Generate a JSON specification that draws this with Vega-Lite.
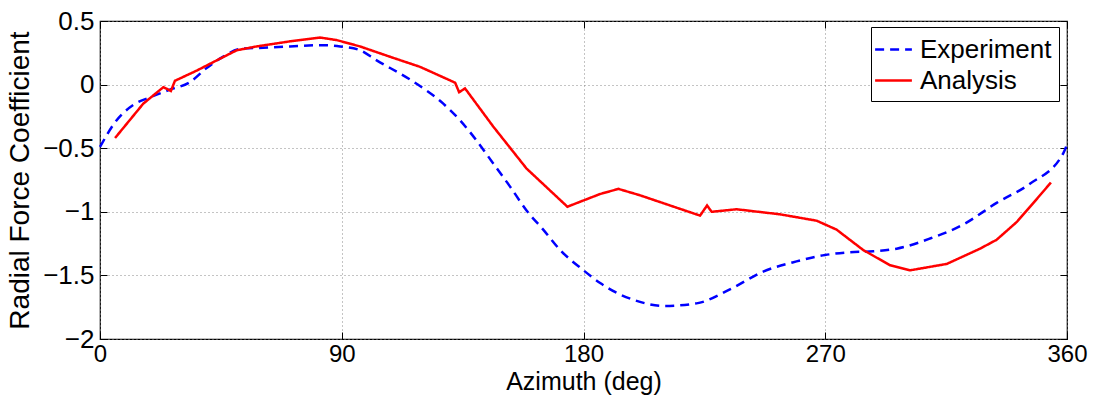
{
  "$schema": "https://vega.github.io/schema/vega-lite/v6.json",
  "width": 967,
  "height": 318,
  "autosize": {"type": "none"},
  "padding": {"left": 100, "top": 21, "right": 29, "bottom": 66},
  "background": "white",
  "config": {
    "font": "Liberation Sans",
    "view": {"stroke": "black", "strokeWidth": 1.2},
    "axis": {
      "gridColor": "#888", "gridDash": [1, 3], "gridWidth": 1,
      "domain": false, "tickColor": "black", "tickSize": -7, "tickWidth": 1,
      "labelColor": "black", "titleColor": "black", "labelFont": "Liberation Sans", "titleFont": "Liberation Sans",
      "titleFontWeight": "normal", "labelFlush": false
    }
  },
  "data": {"values": [
    {"series": "Experiment", "az": 0, "cf": -0.49},
    {"series": "Experiment", "az": 6.2, "cf": -0.28},
    {"series": "Experiment", "az": 12.4, "cf": -0.16},
    {"series": "Experiment", "az": 18.6, "cf": -0.1},
    {"series": "Experiment", "az": 26, "cf": -0.04},
    {"series": "Experiment", "az": 33.5, "cf": 0.02},
    {"series": "Experiment", "az": 39.7, "cf": 0.13},
    {"series": "Experiment", "az": 45.9, "cf": 0.22},
    {"series": "Experiment", "az": 52, "cf": 0.28},
    {"series": "Experiment", "az": 60.7, "cf": 0.29},
    {"series": "Experiment", "az": 70.7, "cf": 0.3},
    {"series": "Experiment", "az": 83, "cf": 0.31},
    {"series": "Experiment", "az": 89.4, "cf": 0.3},
    {"series": "Experiment", "az": 96.8, "cf": 0.27},
    {"series": "Experiment", "az": 103, "cf": 0.19},
    {"series": "Experiment", "az": 115.4, "cf": 0.04},
    {"series": "Experiment", "az": 127.8, "cf": -0.15},
    {"series": "Experiment", "az": 134, "cf": -0.28},
    {"series": "Experiment", "az": 140.2, "cf": -0.44},
    {"series": "Experiment", "az": 146.4, "cf": -0.62},
    {"series": "Experiment", "az": 152.6, "cf": -0.8},
    {"series": "Experiment", "az": 158.8, "cf": -0.99},
    {"series": "Experiment", "az": 165, "cf": -1.14},
    {"series": "Experiment", "az": 171.3, "cf": -1.3},
    {"series": "Experiment", "az": 180, "cf": -1.46},
    {"series": "Experiment", "az": 186.2, "cf": -1.56},
    {"series": "Experiment", "az": 193.6, "cf": -1.65},
    {"series": "Experiment", "az": 199.8, "cf": -1.7},
    {"series": "Experiment", "az": 209.7, "cf": -1.74},
    {"series": "Experiment", "az": 222.1, "cf": -1.72},
    {"series": "Experiment", "az": 234.5, "cf": -1.61},
    {"series": "Experiment", "az": 246.9, "cf": -1.47},
    {"series": "Experiment", "az": 259.3, "cf": -1.39},
    {"series": "Experiment", "az": 269.9, "cf": -1.34},
    {"series": "Experiment", "az": 277.9, "cf": -1.32},
    {"series": "Experiment", "az": 287.9, "cf": -1.31},
    {"series": "Experiment", "az": 296.6, "cf": -1.29},
    {"series": "Experiment", "az": 309, "cf": -1.21},
    {"series": "Experiment", "az": 321.4, "cf": -1.1},
    {"series": "Experiment", "az": 333.8, "cf": -0.93},
    {"series": "Experiment", "az": 346.2, "cf": -0.78},
    {"series": "Experiment", "az": 358.6, "cf": -0.54},
    {"series": "Experiment", "az": 360, "cf": -0.47},
    {"series": "Analysis", "az": 5.6, "cf": -0.42},
    {"series": "Analysis", "az": 16.1, "cf": -0.15},
    {"series": "Analysis", "az": 23.6, "cf": -0.02},
    {"series": "Analysis", "az": 26.4, "cf": -0.05},
    {"series": "Analysis", "az": 27.9, "cf": 0.03},
    {"series": "Analysis", "az": 36, "cf": 0.11},
    {"series": "Analysis", "az": 43.4, "cf": 0.19},
    {"series": "Analysis", "az": 50.9, "cf": 0.27},
    {"series": "Analysis", "az": 58.3, "cf": 0.3},
    {"series": "Analysis", "az": 70.7, "cf": 0.34},
    {"series": "Analysis", "az": 81.9, "cf": 0.37},
    {"series": "Analysis", "az": 88.1, "cf": 0.35},
    {"series": "Analysis", "az": 96.8, "cf": 0.3},
    {"series": "Analysis", "az": 109.2, "cf": 0.21},
    {"series": "Analysis", "az": 119.1, "cf": 0.14},
    {"series": "Analysis", "az": 132.2, "cf": 0.015},
    {"series": "Analysis", "az": 133.7, "cf": -0.06},
    {"series": "Analysis", "az": 135.9, "cf": -0.03},
    {"series": "Analysis", "az": 146.4, "cf": -0.33},
    {"series": "Analysis", "az": 158.8, "cf": -0.66},
    {"series": "Analysis", "az": 174, "cf": -0.96},
    {"series": "Analysis", "az": 186.2, "cf": -0.86},
    {"series": "Analysis", "az": 193, "cf": -0.82},
    {"series": "Analysis", "az": 201, "cf": -0.87},
    {"series": "Analysis", "az": 223.4, "cf": -1.03},
    {"series": "Analysis", "az": 226, "cf": -0.95},
    {"series": "Analysis", "az": 227.7, "cf": -1.0},
    {"series": "Analysis", "az": 237, "cf": -0.98},
    {"series": "Analysis", "az": 253.2, "cf": -1.02},
    {"series": "Analysis", "az": 266.8, "cf": -1.07},
    {"series": "Analysis", "az": 274.2, "cf": -1.14},
    {"series": "Analysis", "az": 284.1, "cf": -1.3},
    {"series": "Analysis", "az": 294.1, "cf": -1.42},
    {"series": "Analysis", "az": 301.6, "cf": -1.46},
    {"series": "Analysis", "az": 315.2, "cf": -1.41},
    {"series": "Analysis", "az": 327.6, "cf": -1.29},
    {"series": "Analysis", "az": 333.8, "cf": -1.22},
    {"series": "Analysis", "az": 341.3, "cf": -1.08},
    {"series": "Analysis", "az": 347.5, "cf": -0.93},
    {"series": "Analysis", "az": 354, "cf": -0.77}
  ]},
  "encoding": {
    "color": {
      "field": "series", "type": "nominal",
      "scale": {"domain": ["Experiment", "Analysis"], "range": ["#0000ff", "#ff0000"]},
      "legend": {
        "title": null, "orient": "none", "legendX": 771, "legendY": 6,
        "symbolType": "M-1.3,0L1.3,0", "symbolSize": 800, "symbolStrokeWidth": 2.5,
        "labelFontSize": 26, "labelColor": "black", "labelFont": "Liberation Sans", "labelOffset": 11,
        "strokeColor": "black", "fillColor": "white", "padding": 7, "rowPadding": 2
      }
    },
    "strokeDash": {
      "field": "series", "type": "nominal",
      "scale": {"domain": ["Experiment", "Analysis"], "range": [[9, 6], [1, 0]]},
      "legend": null
    }
  },
  "layer": [
    {
      "transform": [{"filter": "datum.series === 'Experiment'"}],
      "mark": {"type": "line", "strokeWidth": 2.5, "interpolate": "monotone"},
      "encoding": {
        "x": {
          "field": "az", "type": "quantitative",
          "scale": {"domain": [0, 360], "nice": false, "zero": false},
          "axis": {"values": [0, 90, 180, 270, 360], "grid": true, "title": "Azimuth (deg)", "labelFontSize": 24, "titleFontSize": 25, "labelPadding": 10, "titlePadding": 3}
        },
        "y": {
          "field": "cf", "type": "quantitative",
          "scale": {"domain": [-2, 0.5], "nice": false, "zero": false},
          "axis": {"values": [-2, -1.5, -1, -0.5, 0, 0.5], "grid": true, "labelExpr": "replace(format(datum.value, '~g'), '-', '\u2212')", "title": "Radial Force Coefficient", "labelFontSize": 26, "titleFontSize": 28, "labelPadding": 13, "titlePadding": 8}
        }
      }
    },
    {
      "transform": [{"filter": "datum.series === 'Analysis'"}],
      "mark": {"type": "line", "strokeWidth": 2.5, "interpolate": "linear"},
      "encoding": {
        "x": {
          "field": "az", "type": "quantitative",
          "axis": {"orient": "top", "values": [0, 90, 180, 270, 360], "grid": false, "labels": false, "title": null}
        },
        "y": {
          "field": "cf", "type": "quantitative",
          "axis": {"orient": "right", "values": [-2, -1.5, -1, -0.5, 0, 0.5], "grid": false, "labels": false, "title": null}
        }
      }
    }
  ],
  "resolve": {"axis": {"x": "independent", "y": "independent"}}
}
